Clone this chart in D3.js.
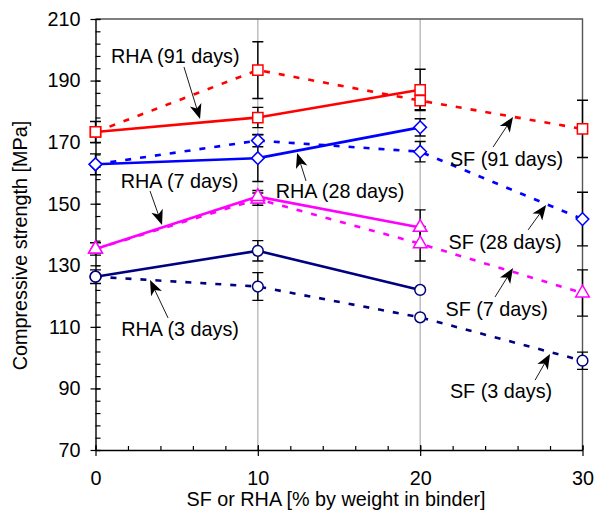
<!DOCTYPE html>
<html><head><meta charset="utf-8">
<script src="https://cdn.jsdelivr.net/npm/d3@7"></script>
<style>body{margin:0;background:#fff}svg{display:block}text{font-family:"Liberation Sans",Arial,sans-serif;fill:#000}</style>
</head><body>
<svg id="chart" width="595" height="522"></svg>
<script>
// ---- data ----
const xRHA = [0, 10, 20];
const xSF = [0, 10, 20, 30];
const rha91 = [173.3, 178.0, 187.0];
const sf91  = [173.3, 193.4, 183.5, 174.3];
const rha28 = [162.8, 164.8, 174.8];
const sf28  = [162.8, 170.5, 166.9, 145.0];
const rha7  = [135.3, 152.3, 142.3];
const sf7   = [135.3, 151.5, 137.0, 121.0];
const rha3  = [126.3, 134.7, 122.0];
const sf3   = [126.3, 123.1, 113.1, 99.0];
const errRha91 = [3.4, 3.3, 6.7];
const errSf91  = [0, 9.2, 3.0, 9.3];
const errRha28 = [3.4, 7.6, 2.8];
const errSf28  = [0, 2.0, 3.3, 8.7];
const errRha7  = [2.0, 2.0, 5.7];
const errSf7   = [0, 2.0, 5.6, 7.5];
const errRha3  = [2.2, 3.3, 0];
const errSf3   = [0, 4.5, 0, 2.8];
const xTicks = [0, 10, 20, 30];
const yTicks = [70, 90, 110, 130, 150, 170, 190, 210];
const labels = ["RHA (91 days)", "SF (91 days)", "RHA (7 days)", "RHA (28 days)", "SF (28 days)", "SF (7 days)", "RHA (3 days)", "SF (3 days)"];
// label anchor [x,y], arrow start [x,y], arrow tip [x,y] in data units
const labelPos  = [[4.91,195.7],[25.32,162.3],[5.18,155.1],[15.06,151.9],[25.23,135.3],[24.71,113.5],[5.21,107.0],[24.98,86.9]];
const arrowFrom = [[5.45,194.4],[24.49,168.4],[3.36,154.1],[12.97,157.4],[26.65,141.5],[24.61,119.7],[4.47,112.9],[27.08,92.7]];
const arrowTo   = [[6.44,177.5],[25.72,178.2],[4.10,143.1],[12.42,166.5],[27.76,149.6],[25.72,129.1],[3.36,125.2],[28.0,101.2]];

// ---- layout ----
const svg = d3.select("#chart");
const L = 95.5, R = 582.5, T = 19, B = 450;
const x = d3.scaleLinear().domain([0, 30]).range([L, R]);
const y = d3.scaleLinear().domain([70, 210]).range([B, T]);
const FS = 19.8;

// grid lines
svg.append("g").selectAll("line").data([10, 20]).join("line")
  .attr("x1", d => x(d)).attr("x2", d => x(d)).attr("y1", T).attr("y2", B)
  .attr("stroke", "#b4b4b4").attr("stroke-width", 1.3);
// frame top/right
svg.append("path").attr("d", `M${L},${T}H${R}V${B}`).attr("fill", "none").attr("stroke", "#555").attr("stroke-width", 1.4);

// axes
const yMinor = d3.range(70, 210.01, 4);
const xMinor = d3.range(0, 30.01, 2);
const gy = svg.append("g").attr("transform", `translate(${L},0)`);
gy.call(d3.axisLeft(y).tickValues(yMinor).tickSize(-5).tickFormat(""));
gy.call(g => g.selectAll(".domain").remove());
const gy2 = svg.append("g").attr("transform", `translate(${L},0)`);
gy2.call(d3.axisLeft(y).tickValues(yTicks).tickSizeInner(5).tickSizeOuter(0).tickPadding(10).tickFormat(d3.format("d")));
gy2.selectAll(".tick line").attr("x2", 5).attr("x1", -5);
gy2.selectAll("text").style("font-size", FS + "px").attr("font-family", null);

const gx = svg.append("g").attr("transform", `translate(0,${B})`);
gx.call(d3.axisBottom(x).tickValues(xMinor).tickSize(-4).tickFormat(""));
gx.call(g => g.selectAll(".domain").remove());
const gx2 = svg.append("g").attr("transform", `translate(0,${B})`);
gx2.call(d3.axisBottom(x).tickValues(xTicks).tickSizeOuter(0).tickSizeInner(6).tickPadding(15).tickFormat(d3.format("d")));
gx2.selectAll(".tick line").attr("y1", -5).attr("y2", 6);
gx2.selectAll("text").style("font-size", FS + "px").attr("font-family", null);
svg.selectAll(".domain").attr("stroke", "#000").attr("stroke-width", 1.4);
svg.selectAll(".tick line").attr("stroke", "#000").attr("stroke-width", 1.2);

// axis titles
svg.append("text").attr("x", (L + R) / 2 - 3).attr("y", 506).attr("text-anchor", "middle")
  .style("font-size", FS + "px").text("SF or RHA [% by weight in binder]");
svg.append("text").attr("transform", `translate(27,${(T + B) / 2 + 11}) rotate(-90)`).attr("text-anchor", "middle")
  .style("font-size", FS + "px").text("Compressive strength [MPa]");

// series
const series = [
  {xs: xSF, v: sf3, e: errSf3, c: "#000080", dash: "6,9", sym: "circle"},
  {xs: xRHA, v: rha3, e: errRha3, c: "#000080", dash: null, sym: "circle"},
  {xs: xSF, v: sf7, e: errSf7, c: "#ff00ff", dash: "6,9", sym: "triangle"},
  {xs: xRHA, v: rha7, e: errRha7, c: "#ff00ff", dash: null, sym: "triangle"},
  {xs: xSF, v: sf28, e: errSf28, c: "#0000ff", dash: "6,9", sym: "diamond"},
  {xs: xRHA, v: rha28, e: errRha28, c: "#0000ff", dash: null, sym: "diamond"},
  {xs: xSF, v: sf91, e: errSf91, c: "#ff0000", dash: "6,9", sym: "square"},
  {xs: xRHA, v: rha91, e: errRha91, c: "#ff0000", dash: null, sym: "square"},
];
// error bars first
const eg = svg.append("g");
series.forEach(s => {
  s.xs.forEach((xv, i) => {
    if (!s.e[i]) return;
    const px = x(xv), y1 = y(s.v[i] + s.e[i]), y2 = y(s.v[i] - s.e[i]);
    eg.append("path").attr("d", `M${px},${y1}V${y2}M${px - 5.5},${y1}h11M${px - 5.5},${y2}h11`)
      .attr("stroke", "#000").attr("stroke-width", 1.4).attr("fill", "none");
  });
});
const line = d3.line().x(d => x(d[0])).y(d => y(d[1]));
const lg = svg.append("g");
series.forEach(s => {
  lg.append("path").datum(s.xs.map((xv, i) => [xv, s.v[i]])).attr("d", line)
    .attr("fill", "none").attr("stroke", s.c).attr("stroke-width", 2.6)
    .attr("stroke-dasharray", s.dash);
});
const symPath = {
  circle: d3.symbol().type(d3.symbolCircle).size(90)(),
  triangle: d3.symbol().type(d3.symbolTriangle).size(80)(),
  diamond: "M0,-6.3L6.3,0L0,6.3L-6.3,0Z",
  square: d3.symbol().type(d3.symbolSquare).size(105)()
};
const mg = svg.append("g");
series.forEach(s => {
  s.xs.forEach((xv, i) => {
    mg.append("path").attr("d", symPath[s.sym])
      .attr("transform", `translate(${x(xv)},${y(s.v[i])})`)
      .attr("fill", "#fff").attr("stroke", s.c).attr("stroke-width", 1.5);
  });
});

// annotations
const ag = svg.append("g");
labels.forEach((t, i) => {
  ag.append("text").attr("x", x(labelPos[i][0])).attr("y", y(labelPos[i][1])).attr("text-anchor", "middle")
    .style("font-size", FS + "px").text(t);
  const x0 = x(arrowFrom[i][0]), y0 = y(arrowFrom[i][1]), x1 = x(arrowTo[i][0]), y1 = y(arrowTo[i][1]);
  const ang = Math.atan2(y1 - y0, x1 - x0) * 180 / Math.PI;
  const len = Math.hypot(x1 - x0, y1 - y0);
  ag.append("line").attr("x1", x0).attr("y1", y0).attr("x2", x1 - (x1 - x0) / len * 8).attr("y2", y1 - (y1 - y0) / len * 8)
    .attr("stroke", "#000").attr("stroke-width", 0.9);
  ag.append("path").attr("d", "M0,0L-15,-6L-11,0L-15,6Z").attr("fill", "#000")
    .attr("transform", `translate(${x1},${y1}) rotate(${ang})`);
});
</script>
</body></html>
